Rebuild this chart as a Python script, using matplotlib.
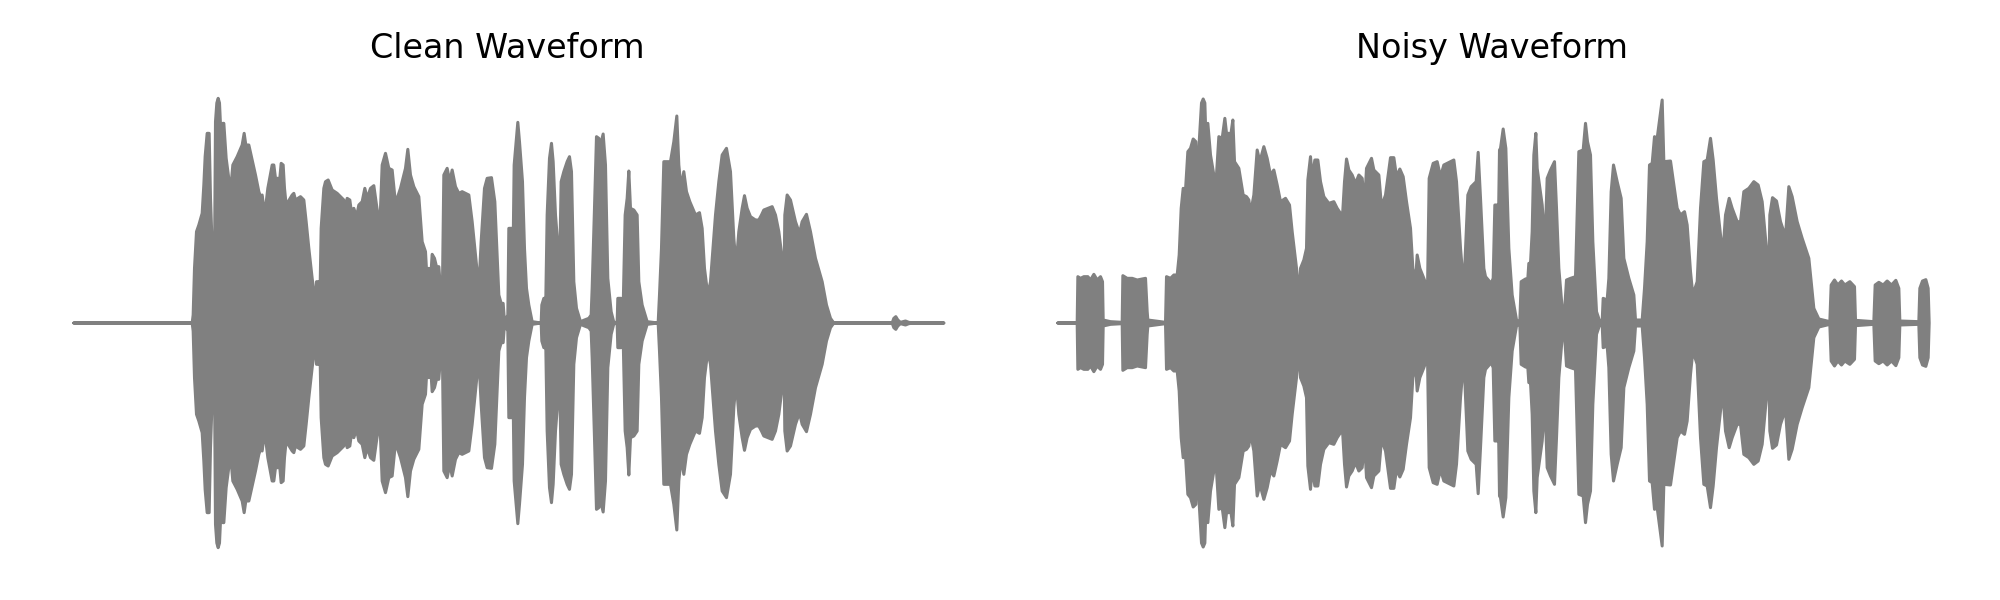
import numpy as np
import matplotlib
matplotlib.use("Agg")
import matplotlib.pyplot as plt

# Amplitude envelopes as (time, amplitude)
# tail times are counted from tail_start
tail_start = 1320

clean_head = [
    (40,0),(395,0),(398,24),(402,164),(408,274),(415,294),(425,329),(430,414),(434,500),(440,569),(446,569),
    (450,374),(456,200),(462,179),(465,604),(469,660),(473,674),(477,660),(480,594),(487,599),(490,599),(497,494),
    (510,394),(517,474),(530,499),(545,534),(551,569),(556,534),(565,534),(575,489),(585,444),(595,394),
    (600,379),(605,384),(610,344),(615,344),(622,404),(635,474),(640,474),(645,434),(658,434),(662,479),
    (668,474),(672,404),(677,354),(695,384),(700,389),(705,369),(720,379),(730,369),(737,304),(745,224),
    (755,134),(765,54),(768,124),(775,124),(778,54),(782,284),(790,404),(795,424),(803,429),(815,399),
    (830,389),(850,369),(855,344),(860,374),(868,369),(872,339),(880,344),(888,319),(895,354),(905,364),
    (913,404),(920,374),(930,404),(940,412),(948,354),(958,289),(965,474),(975,509),(985,464),(995,459),
    (1005,359),(1020,404),(1035,464),(1042,521),(1050,444),(1060,409),(1075,379),(1085,244),(1095,214),(1100,124),
    (1105,164),(1110,124),(1115,206),(1122,194),(1128,169),(1135,169),(1140,104),(1145,34),(1150,444),(1160,464),
    (1168,424),(1175,459),(1185,409),(1195,389),(1205,394),(1225,384),(1235,304),(1255,104),(1262,244),(1272,404),
    (1280,434),(1293,436),(1303,364),(1315,84),(1322,59),(1328,59),(1332,4),
]
clean_tail = [
    (22,24),(25,284),(34,284),(37,149),(41,474),(47,544),(52,602),(57,544),(66,424),(72,224),
    (78,104),(85,54),(95,4),(122,0),(124,54),(130,74),(136,74),(140,324),(147,494),(153,539),
    (158,484),(165,324),(172,234),(178,194),(182,424),(190,454),(200,484),(207,499),(213,454),(220,124),
    (228,44),(240,4),(252,9),(265,14),(272,24),(275,104),(282,344),(288,559),(295,554),(300,534),
    (308,567),(315,474),(322,134),(332,34),(340,2),(350,2),(352,74),(362,74),(368,44),(374,324),
    (380,374),(385,456),(390,344),(400,339),(410,324),(415,124),(425,54),(440,4),(473,0),(477,84),
    (483,224),(490,484),(497,484),(510,484),(520,544),(529,621),(535,474),(542,404),(550,454),(558,394),
    (568,364),(585,324),(597,331),(605,284),(612,164),(622,84),(630,124),(645,324),(655,424),(665,504),
    (678,524),(690,454),(700,254),(707,174),(715,274),(725,344),(732,382),(740,344),(750,319),(765,309),
    (775,309),(783,324),(790,339),(815,349),(825,324),(835,274),(845,194),(851,149),(853,324),(860,384),
    (870,369),(885,304),(897,269),(905,304),(918,326),(930,274),(945,194),(965,124),(978,54),(990,14),
    (1000,0),(1175,0),(1180,14),(1186,19),(1192,9),(1200,2),(1215,6),(1225,2),(1240,0),(1330,0),
]
noisy_head = [
    (22,0),(80,0),(82,139),(90,134),(100,139),(112,139),(120,129),(130,146),(140,129),(150,139),
    (156,124),(158,9),(180,4),(215,2),(217,142),(230,134),(245,134),(260,129),(285,134),(290,34),
    (292,9),(345,2),(348,139),(360,134),(370,144),(380,144),(386,204),(392,344),(398,404),(405,399),
    (412,514),(420,524),(428,552),(436,544),(441,179),(445,524),(453,660),(458,672),(463,660),(465,594),(472,599),
    (480,504),(490,444),(497,429),(505,559),(515,554),(523,614),(528,569),(535,569),(540,559),(547,609),
    (552,484),(565,464),(578,384),(588,379),(595,369),(600,329),(610,384),(620,519),(628,484),(640,529),
    (650,494),(660,444),(670,459),(680,414),(690,364),(705,374),(717,354),(725,274),(738,164),(746,74),
    (750,164),(760,189),(768,224),(772,429),(780,499),(785,434),(793,489),(802,489),(810,424),(820,379),
    (835,359),(850,364),(860,344),(870,329),(875,304),(882,424),(888,492),(895,459),(905,444),(915,419),
    (925,444),(935,434),(942,354),(948,464),(963,494),(970,459),(985,444),(993,349),(1005,384),(1020,496),
    (1030,496),(1038,439),(1048,462),(1058,439),(1068,364),(1080,284),(1087,164),(1095,124),(1100,204),(1108,164),
    (1120,134),(1127,114),(1130,34),(1136,434),(1148,479),(1160,484),(1170,439),(1180,474),(1210,489),(1218,424),
    (1230,224),(1240,104),(1252,384),(1262,409),(1277,424),(1283,512),(1290,374),(1300,164),(1305,139),(1322,119),
    (1328,134),(1333,354),(1339,354),(1343,244),(1347,519),
]
noisy_tail = [
    (30,524),(38,582),(46,524),(55,224),(65,84),(78,9),(88,4),(92,124),(105,132),(112,134),
    (115,179),(120,179),(125,274),(130,504),(136,569),(140,464),(155,354),(160,284),(165,284),(170,434),
    (180,459),(192,484),(198,344),(205,164),(215,44),(222,34),(228,129),(240,134),(255,139),(265,514),
    (278,519),(285,599),(291,544),(300,504),(307,244),(318,34),(328,4),(335,4),(338,74),(350,69),
    (355,134),(362,394),(369,474),(380,424),(392,374),(400,194),(415,134),(430,84),(435,9),(455,9),
    (462,104),(470,244),(477,474),(485,479),(492,559),(500,554),(515,669),(520,484),(540,486),(548,429),
    (560,344),(570,324),(582,334),(590,294),(600,154),(607,84),(620,124),(630,344),(640,484),(650,489),
    (660,554),(668,489),(678,374),(690,264),(697,204),(705,324),(716,374),(725,344),(740,304),(750,304),
    (760,394),(775,404),(790,424),(803,414),(815,364),(825,254),(835,149),(838,324),(846,376),(858,366),
    (870,304),(885,259),(895,409),(905,379),(920,304),(935,254),(955,194),(962,124),(970,44),(985,12),
    (1018,4),(1022,114),(1032,129),(1042,114),(1053,126),(1063,114),(1078,124),(1092,109),(1095,8),(1150,4),
    (1154,114),(1165,122),(1178,114),(1190,126),(1203,114),(1216,128),(1225,104),(1228,6),(1285,4),(1288,104),
    (1296,126),(1306,130),(1313,104),(1316,0),
]

titles = ["Clean Waveform", "Noisy Waveform"]


def join_envelope(head, tail):
    head = np.array(head, dtype=float)
    tail = np.array(tail, dtype=float)
    tail[:, 0] += tail_start
    return np.vstack([head, tail])


fig, axes = plt.subplots(1, 2, figsize=(10, 3), dpi=200)
fig.subplots_adjust(left=0.01475, right=0.98575, bottom=0.04917, top=0.87583, wspace=0.0293)

envelopes = [join_envelope(clean_head, clean_tail), join_envelope(noisy_head, noisy_tail)]
xlims = [(-91.5, 2779.5), (-106.5, 2764.5)]

for ax, env, title, xlim in zip(axes, envelopes, titles, xlims):
    ax.fill_between(env[:, 0], -env[:, 1], env[:, 1], facecolor="gray", edgecolor="gray",
                    linewidth=1.1, joinstyle="round", capstyle="round")
    ax.set_xlim(xlim)
    ax.set_ylim(-744, 744)
    ax.set_title(title, fontsize=12, x=0.499)
    ax.axis("off")

fig.savefig("out.png", dpi=200)
